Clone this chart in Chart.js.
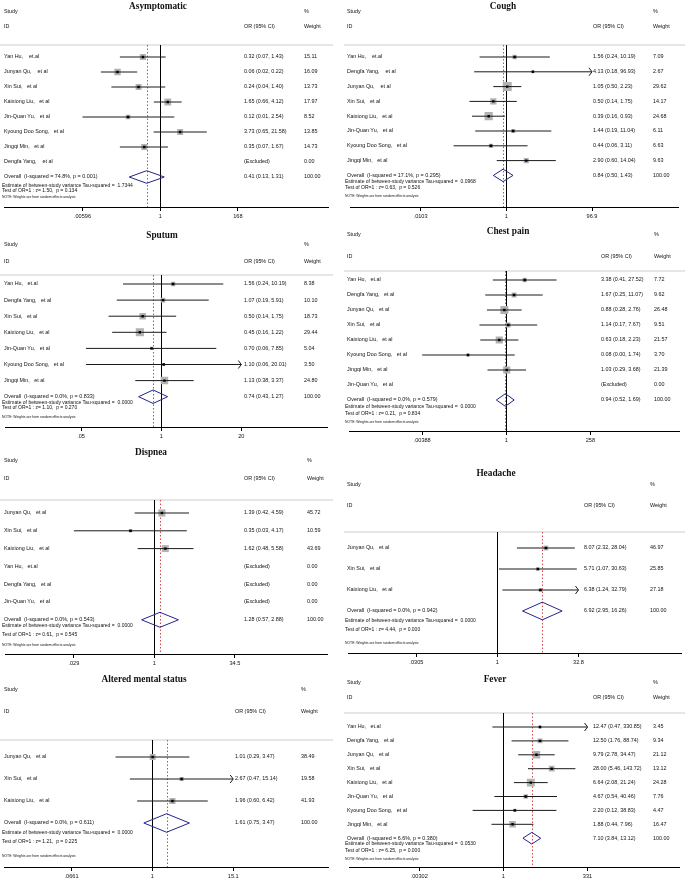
<!DOCTYPE html>
<html>
<head>
<meta charset="utf-8">
<script src="https://cdn.jsdelivr.net/npm/chart.js@4.4.0/dist/chart.umd.min.js"></script>
<style>
    html, body { margin: 0; padding: 0; background: #fff; }
    #page { position: relative; width: 685px; height: 878px; overflow: hidden; }
    #page canvas { position: absolute; }
</style>
</head>
<body>
<div id="page"></div>
<script>
/* ---------- data: one block per symptom ---------- */

// Asymptomatic
const asymStudy = ['Yan Hu,    et.al', 'Junyan Qu,    et al', 'Xin Sui,   et al', 'Kaixiong Liu,   et al', 'Jin-Quan Yu,   et al', 'Kyoung Doo Song,   et al', 'Jingqi Min,   et al', 'Dengfa Yang,    et al'];
const asymOR = [0.32, 0.06, 0.24, 1.65, 0.12, 3.73, 0.35, null];
const asymLow = [0.07, 0.02, 0.04, 0.66, 0.00596, 0.65, 0.07, null];
const asymHigh = [1.43, 0.22, 1.40, 4.12, 2.54, 21.58, 1.67, null];
const asymWeight = [15.11, 16.09, 13.73, 17.97, 8.52, 13.85, 14.73, 0.00];
const asymPooled = [0.41, 0.13, 1.31];
const asymStats = ['74.8%', '0.001', '1.7344', '1.50', '0.134'];
const asymTicks = [0.00596, 1, 168];
const asymTickText = ['.00596', '1', '168'];

// Cough
const coughStudy = ['Yan Hu,    et.al', 'Dengfa Yang,    et al', 'Junyan Qu,    et al', 'Xin Sui,   et al', 'Kaixiong Liu,   et al', 'Jin-Quan Yu,   et al', 'Kyoung Doo Song,   et al', 'Jingqi Min,   et al'];
const coughOR = [1.56, 4.13, 1.05, 0.50, 0.39, 1.44, 0.44, 2.90];
const coughLow = [0.24, 0.18, 0.50, 0.14, 0.16, 0.19, 0.06, 0.60];
const coughHigh = [10.19, 96.93, 2.23, 1.75, 0.93, 11.04, 3.11, 14.04];
const coughWeight = [7.09, 2.67, 29.62, 14.17, 24.68, 6.11, 6.63, 9.63];
const coughPooled = [0.84, 0.50, 1.43];
const coughStats = ['17.1%', '0.295', '0.0968', '0.63', '0.526'];
const coughTicks = [0.0103, 1, 96.9];
const coughTickText = ['.0103', '1', '96.9'];

// Sputum
const sputumStudy = ['Yan Hu,   et.al', 'Dengfa Yang,   et al', 'Xin Sui,   et al', 'Kaixiong Liu,   et al', 'Jin-Quan Yu,   et al', 'Kyoung Doo Song,   et al', 'Jingqi Min,   et al'];
const sputumOR = [1.56, 1.07, 0.50, 0.45, 0.70, 1.10, 1.13];
const sputumLow = [0.24, 0.19, 0.14, 0.16, 0.06, 0.06, 0.38];
const sputumHigh = [10.19, 5.91, 1.75, 1.22, 7.85, 20.01, 3.37];
const sputumWeight = [8.38, 10.10, 18.73, 29.44, 5.04, 3.50, 24.80];
const sputumPooled = [0.74, 0.43, 1.27];
const sputumStats = ['0.0%', '0.833', '0.0000', '1.10', '0.270'];
const sputumTicks = [0.05, 1, 20];
const sputumTickText = ['.05', '1', '20'];

// Chest pain
const chestStudy = ['Yan Hu,   et.al', 'Dengfa Yang,   et al', 'Junyan Qu,   et al', 'Xin Sui,   et al', 'Kaixiong Liu,   et al', 'Kyoung Doo Song,   et al', 'Jingqi Min,   et al', 'Jin-Quan Yu,   et al'];
const chestOR = [3.38, 1.67, 0.88, 1.14, 0.63, 0.08, 1.03, null];
const chestLow = [0.41, 0.25, 0.28, 0.17, 0.18, 0.00388, 0.29, null];
const chestHigh = [27.52, 11.07, 2.76, 7.67, 2.23, 1.74, 3.68, null];
const chestWeight = [7.72, 9.62, 26.48, 9.51, 21.57, 3.70, 21.39, 0.00];
const chestPooled = [0.94, 0.52, 1.69];
const chestStats = ['0.0%', '0.579', '0.0000', '0.21', '0.834'];
const chestTicks = [0.00388, 1, 258];
const chestTickText = ['.00388', '1', '258'];

// Dispnea
const dispStudy = ['Junyan Qu,   et al', 'Xin Sui,   et al', 'Kaixiong Liu,   et al', 'Yan Hu,   et.al', 'Dengfa Yang,   et al', 'Jin-Quan Yu,   et al'];
const dispOR = [1.39, 0.35, 1.62, null, null, null];
const dispLow = [0.42, 0.029, 0.48, null, null, null];
const dispHigh = [4.59, 4.17, 5.58, null, null, null];
const dispWeight = [45.72, 10.59, 43.69, 0.00, 0.00, 0.00];
const dispPooled = [1.28, 0.57, 2.88];
const dispStats = ['0.0%', '0.543', '0.0000', '0.61', '0.545'];
const dispTicks = [0.029, 1, 34.5];
const dispTickText = ['.029', '1', '34.5'];

// Headache
const headStudy = ['Junyan Qu,   et al', 'Xin Sui,   et al', 'Kaixiong Liu,   et al'];
const headOR = [8.07, 5.71, 6.38];
const headLow = [2.32, 1.07, 1.24];
const headHigh = [28.04, 30.63, 32.79];
const headWeight = [46.97, 25.85, 27.18];
const headPooled = [6.92, 2.95, 16.26];
const headStats = ['0.0%', '0.942', '0.0000', '4.44', '0.000'];
const headTicks = [0.0305, 1, 32.8];
const headTickText = ['.0305', '1', '32.8'];

// Altered mental status
const amsStudy = ['Junyan Qu,   et al', 'Xin Sui,   et al', 'Kaixiong Liu,   et al'];
const amsOR = [1.01, 2.67, 1.96];
const amsLow = [0.29, 0.47, 0.60];
const amsHigh = [3.47, 15.14, 6.42];
const amsWeight = [38.49, 19.58, 41.93];
const amsPooled = [1.61, 0.75, 3.47];
const amsStats = ['0.0%', '0.611', '0.0000', '1.21', '0.225'];
const amsTicks = [0.0661, 1, 15.1];
const amsTickText = ['.0661', '1', '15.1'];

// Fever
const feverStudy = ['Yan Hu,   et.al', 'Dengfa Yang,   et al', 'Junyan Qu,   et al', 'Xin Sui,   et al', 'Kaixiong Liu,   et al', 'Jin-Quan Yu,   et al', 'Kyoung Doo Song,   et al', 'Jingqi Min,   et al'];
const feverOR = [12.47, 12.50, 9.79, 28.00, 6.64, 4.67, 2.20, 1.88];
const feverLow = [0.47, 1.76, 2.78, 5.46, 2.08, 0.54, 0.12, 0.44];
const feverHigh = [330.85, 88.74, 34.47, 143.72, 21.24, 40.46, 38.83, 7.96];
const feverWeight = [3.45, 9.34, 21.12, 13.12, 24.28, 7.76, 4.47, 16.47];
const feverPooled = [7.10, 3.84, 13.12];
const feverStats = ['6.6%', '0.380', '0.0530', '6.25', '0.000'];
const feverTicks = [0.00302, 1, 331];
const feverTickText = ['.00302', '1', '331'];

/* ---------- panel placement (page pixels) ---------- */
const panels = [
    { title: 'Asymptomatic', study: asymStudy, or: asymOR, low: asymLow, high: asymHigh, weight: asymWeight, pooled: asymPooled, stats: asymStats, ticks: asymTicks, tickText: asymTickText,
      x0: 0, x1: 333, top: 0, bottom: 224, titleX: 158, titleY: 7, studyY: 12, idY: 27, sepY: 45, row0: 57, rowH: 15,
      estY: 186, testY: 191, noteY: 197, axisY: 207, one: 160, half: 80, orX: 244, wtX: 304, box: 1.6 },
    { title: 'Sputum', study: sputumStudy, or: sputumOR, low: sputumLow, high: sputumHigh, weight: sputumWeight, pooled: sputumPooled, stats: sputumStats, ticks: sputumTicks, tickText: sputumTickText,
      x0: 0, x1: 333, top: 224, bottom: 446, titleX: 162, titleY: 236, studyY: 245, idY: 262, sepY: 275, row0: 284, rowH: 16.1,
      estY: 403, testY: 408, noteY: 417, axisY: 427, one: 161, half: 83, orX: 244, wtX: 304, box: 1.5 },
    { title: 'Dispnea', study: dispStudy, or: dispOR, low: dispLow, high: dispHigh, weight: dispWeight, pooled: dispPooled, stats: dispStats, ticks: dispTicks, tickText: dispTickText,
      x0: 0, x1: 333, top: 446, bottom: 670, titleX: 151, titleY: 453, studyY: 461, idY: 479, sepY: 500, row0: 513, rowH: 17.8,
      estY: 626, testY: 635, noteY: 645, axisY: 654, one: 154, half: 83, orX: 244, wtX: 307, box: 1.05 },
    { title: 'Altered mental status', study: amsStudy, or: amsOR, low: amsLow, high: amsHigh, weight: amsWeight, pooled: amsPooled, stats: amsStats, ticks: amsTicks, tickText: amsTickText,
      x0: 0, x1: 333, top: 670, bottom: 878, titleX: 144, titleY: 680, studyY: 690, idY: 712, sepY: 740, row0: 757, rowH: 22,
      estY: 833, testY: 842, noteY: 856, axisY: 867, one: 152, half: 83, orX: 235, wtX: 301, box: 0.95 },
    { title: 'Cough', study: coughStudy, or: coughOR, low: coughLow, high: coughHigh, weight: coughWeight, pooled: coughPooled, stats: coughStats, ticks: coughTicks, tickText: coughTickText,
      x0: 344, x1: 685, top: 0, bottom: 222, titleX: 503, titleY: 7, studyY: 12, idY: 27, sepY: 45, row0: 57, rowH: 14.8,
      estY: 182, testY: 188, noteY: 196, axisY: 207, one: 506, half: 89, orX: 593, wtX: 653, box: 1.65 },
    { title: 'Chest pain', study: chestStudy, or: chestOR, low: chestLow, high: chestHigh, weight: chestWeight, pooled: chestPooled, stats: chestStats, ticks: chestTicks, tickText: chestTickText,
      x0: 344, x1: 685, top: 222, bottom: 446, titleX: 508, titleY: 232, studyY: 235, idY: 257, sepY: 271, row0: 280, rowH: 15,
      estY: 407, testY: 414, noteY: 422, axisY: 431, one: 506, half: 87, orX: 601, wtX: 654, box: 1.55 },
    { title: 'Headache', study: headStudy, or: headOR, low: headLow, high: headHigh, weight: headWeight, pooled: headPooled, stats: headStats, ticks: headTicks, tickText: headTickText,
      x0: 344, x1: 685, top: 446, bottom: 668, titleX: 496, titleY: 474, studyY: 485, idY: 506, sepY: 532, row0: 548, rowH: 21,
      estY: 621, testY: 630, noteY: 643, axisY: 653, one: 497, half: 83, orX: 584, wtX: 650, box: 0.7 },
    { title: 'Fever', study: feverStudy, or: feverOR, low: feverLow, high: feverHigh, weight: feverWeight, pooled: feverPooled, stats: feverStats, ticks: feverTicks, tickText: feverTickText,
      x0: 344, x1: 685, top: 668, bottom: 878, titleX: 495, titleY: 680, studyY: 683, idY: 698, sepY: 713, row0: 727, rowH: 13.9,
      estY: 844, testY: 851, noteY: 859, axisY: 867, one: 503, half: 87, orX: 593, wtX: 653, box: 1.6 }
];

const SANS = '"Liberation Sans", Arial, sans-serif';
const SERIF = '"Liberation Serif", "Times New Roman", serif';
const fmt = v => v.toFixed(2);

function hline(ctx, xa, xb, y) { ctx.beginPath(); ctx.moveTo(xa, y); ctx.lineTo(xb, y); ctx.stroke(); }
function vline(ctx, x, ya, yb) { ctx.beginPath(); ctx.moveTo(x, ya); ctx.lineTo(x, yb); ctx.stroke(); }
function text(ctx, s, x, y, size, opts = {}) {
    ctx.font = (opts.bold ? 'bold ' : '') + size + 'px ' + (opts.family || SANS);
    ctx.textAlign = opts.align || 'left';
    ctx.textBaseline = 'middle';
    ctx.fillStyle = '#111';
    ctx.fillText(s, x, y);
}

/** one forest plot = one Chart.js scatter chart */
function makePanel(p) {
    const W = p.x1 - p.x0, H = p.bottom - p.top;
    const canvas = document.createElement('canvas');
    canvas.width = W; canvas.height = H;
    canvas.style.left = p.x0 + 'px'; canvas.style.top = p.top + 'px';
    canvas.style.width = W + 'px'; canvas.style.height = H + 'px';
    document.getElementById('page').appendChild(canvas);

    const n = p.study.length;
    const tMin = p.ticks[0], tMax = p.ticks[2];
    const dec = p.half / Math.log10(tMax);
    const xMin = Math.pow(10, (p.x0 - p.one) / dec);
    const xMax = Math.pow(10, (p.x1 - p.one) / dec);
    const yMin = (p.sepY - p.row0) / p.rowH;
    const yMax = (p.axisY - p.row0) / p.rowH;

    const pts = [], sizes = [], datasets = [];
    p.or.forEach((v, i) => {
        if (v == null) return;
        pts.push({ x: v, y: i });
        sizes.push(p.box * Math.sqrt(p.weight[i]) / Math.SQRT2);
    });
    // study point (black) on top
    datasets.push({ data: pts, pointStyle: 'rect', pointRadius: 1.7, backgroundColor: '#000', borderWidth: 0 });
    // confidence intervals, cut at the outer ticks
    p.or.forEach((v, i) => {
        if (v == null) return;
        datasets.push({
            data: [{ x: Math.max(p.low[i], tMin), y: i }, { x: Math.min(p.high[i], tMax), y: i }],
            showLine: true, borderColor: '#1a1a1a', borderWidth: 1, pointRadius: 0
        });
    });
    // weight boxes
    datasets.push({ data: pts, pointStyle: 'rect', pointRadius: c => sizes[c.dataIndex], backgroundColor: '#b2b2b2', borderWidth: 0 });
    // pooled diamond
    const [po, pl, ph] = p.pooled;
    datasets.push({
        data: [{ x: pl, y: n }, { x: po, y: n - 0.42 }, { x: ph, y: n }, { x: po, y: n + 0.42 }, { x: pl, y: n }],
        showLine: true, borderColor: '#23238c', borderWidth: 1, pointRadius: 0, fill: false
    });

    const forest = {
        id: 'forest',
        beforeDatasetsDraw(chart) {
            const { ctx, chartArea: a, scales: { x } } = chart;
            ctx.save();
            ctx.strokeStyle = '#dedede'; ctx.lineWidth = 1.5;
            hline(ctx, 0, W, a.top);
            ctx.strokeStyle = '#000'; ctx.lineWidth = 1;
            vline(ctx, Math.round(x.getPixelForValue(1)) + 0.5, a.top, a.bottom);
            ctx.strokeStyle = '#d04848'; ctx.setLineDash([1.5, 2]);
            vline(ctx, Math.round(x.getPixelForValue(po)) + 0.5, a.top, a.bottom);
            ctx.restore();
        },
        afterDatasetsDraw(chart) {
            const { ctx, scales: { x, y } } = chart;
            ctx.save();
            ctx.strokeStyle = '#1a1a1a'; ctx.lineWidth = 1;
            p.high.forEach((h, i) => {
                if (h == null || h < tMax * 0.995) return;
                const px = x.getPixelForValue(tMax), py = y.getPixelForValue(i);
                ctx.beginPath(); ctx.moveTo(px - 3, py - 4); ctx.lineTo(px, py); ctx.lineTo(px - 3, py + 4); ctx.stroke();
            });
            ctx.restore();
        },
        afterDraw(chart) {
            const { ctx, scales: { y } } = chart;
            const ox = -p.x0, oy = -p.top;
            const lx = (p.x0 === 0 ? 4 : 347) + ox;
            ctx.save();
            text(ctx, p.title, p.titleX + ox, p.titleY + oy, 9.3, { bold: true, family: SERIF, align: 'center' });
            text(ctx, 'Study', lx, p.studyY + oy, 5.4);
            text(ctx, '%', p.wtX + ox, p.studyY + oy, 5.4);
            text(ctx, 'ID', lx, p.idY + oy, 5.4);
            text(ctx, 'OR (95% CI)', p.orX + ox, p.idY + oy, 5.4);
            text(ctx, 'Weight', p.wtX + ox, p.idY + oy, 5.4);
            p.study.forEach((s, i) => {
                const py = y.getPixelForValue(i);
                text(ctx, s, lx, py, 5.4);
                const ci = p.or[i] == null ? '(Excluded)' : `${fmt(p.or[i])} (${fmt(p.low[i])}, ${fmt(p.high[i])})`;
                text(ctx, ci, p.orX + ox, py, 5.4);
                text(ctx, fmt(p.weight[i]), p.wtX + ox, py, 5.4);
            });
            const py = y.getPixelForValue(n);
            const st = p.stats;
            text(ctx, `Overall  (I-squared = ${st[0]}, p = ${st[1]})`, lx, py, 5.4);
            text(ctx, `${fmt(po)} (${fmt(pl)}, ${fmt(ph)})`, p.orX + ox, py, 5.4);
            text(ctx, '100.00', p.wtX + ox, py, 5.4);
            text(ctx, `Estimate of between-study variance Tau-squared =  ${st[2]}`, lx - 2, p.estY + oy, 5);
            text(ctx, `Test of OR=1 : z= ${st[3]},  p = ${st[4]}`, lx - 2, p.testY + oy, 5);
            text(ctx, 'NOTE: Weights are from random effects analysis', lx - 2, p.noteY + oy, 3.4);
            ctx.restore();
        }
    };

    return new Chart(canvas.getContext('2d'), {
        type: 'scatter',
        data: { datasets },
        options: {
            responsive: false,
            devicePixelRatio: 1,
            animation: false,
            events: [],
            layout: { padding: { top: p.sepY - p.top, left: 0, right: 0, bottom: 0 } },
            plugins: { legend: { display: false }, tooltip: { enabled: false } },
            scales: {
                x: {
                    type: 'logarithmic', min: xMin, max: xMax, bounds: 'data',
                    afterBuildTicks: s => { s.ticks = p.ticks.map(v => ({ value: v })); },
                    afterFit: s => { s.height = p.bottom - p.axisY; },
                    grid: { drawOnChartArea: false, drawTicks: true, tickLength: 4, color: '#000', lineWidth: 1 },
                    border: { display: true, color: '#000', width: 1 },
                    ticks: {
                        autoSkip: false, maxRotation: 0, minRotation: 0, padding: 2, color: '#111',
                        font: { family: SANS, size: 5.6 },
                        callback: (v, i) => p.tickText[i]
                    }
                },
                y: { type: 'linear', display: false, reverse: true, min: yMin, max: yMax, bounds: 'data' }
            }
        },
        plugins: [forest]
    });
}

panels.forEach(makePanel);
</script>
</body>
</html>
